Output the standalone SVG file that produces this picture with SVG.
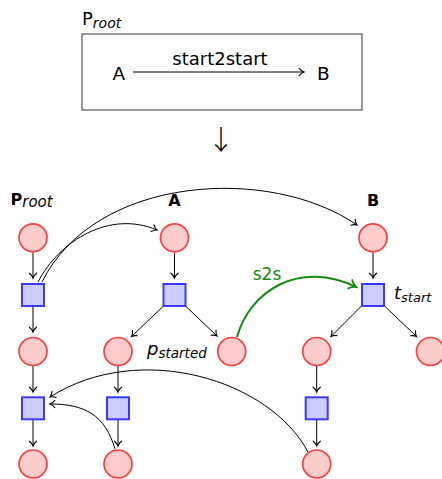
<svg xmlns="http://www.w3.org/2000/svg" width="442" height="479" viewBox="0 0 442 479">
  <defs>
    <marker id="arr" markerUnits="userSpaceOnUse" markerWidth="10" markerHeight="10" refX="0" refY="0" orient="auto" overflow="visible">
      <path d="M -4.8 -3.6 C -3 -1.3 -1.2 -0.4 0 0 C -1.2 0.4 -3 1.3 -4.8 3.6" fill="none" stroke="#000" stroke-width="1.1" stroke-linecap="round"/>
    </marker>
    <marker id="arrG" markerUnits="userSpaceOnUse" markerWidth="12" markerHeight="12" refX="0" refY="0" orient="auto" overflow="visible">
      <path d="M -6.5 -4.6 C -4 -1.6 -1.6 -0.5 0 0 C -1.6 0.5 -4 1.6 -6.5 4.6" fill="none" stroke="#128c12" stroke-width="1.8" stroke-linecap="round"/>
    </marker>
  </defs>
  <style>
    .place { fill: #ffcccc; stroke: #ff4040; stroke-width: 1.7; }
    .trans { fill: #ccccff; stroke: #3a3aff; stroke-width: 2; }
    .e { fill: none; stroke: #000; stroke-width: 1; marker-end: url(#arr); }
    .g { fill: none; stroke: #128c12; stroke-width: 2; marker-end: url(#arrG); }
    .t { font-family: "DejaVu Sans", sans-serif; fill: #000; }
    .b { font-weight: bold; font-size: 16px; }
    .i { font-style: italic; }
  </style>

  <!-- composite process: A start2start B -->
  <g id="process">
    <text class="t" x="82" y="25" font-size="18">P<tspan class="i" font-size="14" dy="3">root</tspan></text>
    <rect x="82" y="34" width="280" height="76" fill="none" stroke="#555" stroke-width="1.2"/>
    <text class="t" x="112.5" y="80" font-size="18.5">A</text>
    <text class="t" x="220" y="65" font-size="18" text-anchor="middle">start2start</text>
    <text class="t" x="317" y="80" font-size="18.5">B</text>
    <line x1="133" y1="72" x2="304" y2="72" class="e"/>
  </g>

  <text id="maps-to" x="221" y="150" font-family="'Noto Sans CJK JP', 'DejaVu Sans', sans-serif" font-size="27" font-weight="300" fill="#000" text-anchor="middle">↓</text>

  <!-- column headings -->
  <text id="head-root" class="t b" x="10.5" y="204.5">P<tspan class="i" font-weight="normal" font-size="15" dy="2">root</tspan></text>
  <text id="head-a" class="t b" x="174.5" y="205.5" text-anchor="middle">A</text>
  <text id="head-b" class="t b" x="373" y="205.5" text-anchor="middle">B</text>

  <!-- connectors -->
  <g id="edges">
    <path class="e" d="M33 252.5 V278"/>
    <path class="e" d="M33 307 V332"/>
    <path class="e" d="M33 366 V392"/>
    <path class="e" d="M33 420 V446"/>

    <path class="e" d="M174.5 252.5 V278"/>
    <path class="e" d="M163.5 306 L131.5 336.5"/>
    <path class="e" d="M185.5 306 L217 336"/>
    <path class="e" d="M118 366 V392"/>
    <path class="e" d="M118 420 V446"/>

    <path class="e" d="M373 252.5 V278"/>
    <path class="e" d="M361.5 306 L331 336.5"/>
    <path class="e" d="M384.5 306 L416.5 336.5"/>
    <path class="e" d="M316.7 366 V392"/>
    <path class="e" d="M316.7 420 V446"/>

    <path class="e" d="M38 282 C60 240 110 210 157 230"/>
    <path class="e" d="M42 282 C95 175 270 165 357 225"/>
    <path class="e" d="M308 452 C270 380 140 340 50 397"/>
    <path class="e" d="M115 449 C105 415 85 404 50 404"/>

    <path class="g" d="M237 337 C250 290 300 260 356 287"/>
    <text class="t" x="267" y="280" font-size="17" text-anchor="middle" style="fill:#128c12">s2s</text>
  </g>

  <!-- P_root net -->
  <g id="root-p0"><circle class="place" cx="33" cy="237.8" r="14"/></g>
  <g id="root-t0"><rect class="trans" x="22" y="284" width="22" height="22"/></g>
  <g id="root-p1"><circle class="place" cx="33" cy="351.5" r="14"/></g>
  <g id="root-t1"><rect class="trans" x="22" y="397.3" width="22" height="22"/></g>
  <g id="root-p2"><circle class="place" cx="33" cy="464" r="14"/></g>

  <!-- A net -->
  <g id="a-p0"><circle class="place" cx="174.5" cy="237.8" r="14"/></g>
  <g id="a-t-start"><rect class="trans" x="163.5" y="284" width="22" height="22"/></g>
  <g id="a-p1"><circle class="place" cx="118" cy="351.5" r="14"/></g>
  <g id="a-p-started">
    <circle class="place" cx="231.7" cy="351.5" r="14"/>
    <text class="t i" x="147" y="355" font-size="18">p<tspan font-size="13.5" dy="2.5">started</tspan></text>
  </g>
  <g id="a-t1"><rect class="trans" x="107" y="397.3" width="22" height="22"/></g>
  <g id="a-p2"><circle class="place" cx="118" cy="464" r="14"/></g>

  <!-- B net -->
  <g id="b-p0"><circle class="place" cx="373" cy="237.8" r="14"/></g>
  <g id="b-t-start">
    <rect class="trans" x="362" y="284" width="22" height="22"/>
    <text class="t i" x="394" y="298.5" font-size="18">t<tspan font-size="13" dy="3.5">start</tspan></text>
  </g>
  <g id="b-p1"><circle class="place" cx="316.7" cy="351.5" r="14"/></g>
  <g id="b-p-right"><circle class="place" cx="430.5" cy="351.5" r="14"/></g>
  <g id="b-t1"><rect class="trans" x="305.7" y="397.3" width="22" height="22"/></g>
  <g id="b-p2"><circle class="place" cx="316.7" cy="464" r="14"/></g>
</svg>
